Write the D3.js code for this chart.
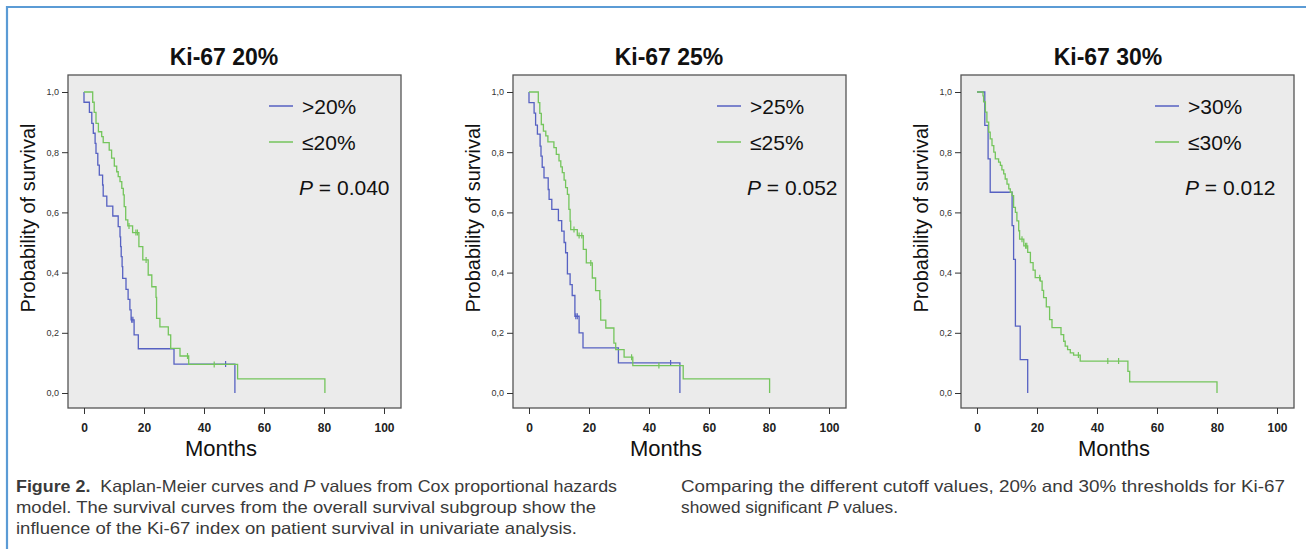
<!DOCTYPE html>
<html>
<head>
<meta charset="utf-8">
<script src="https://cdn.jsdelivr.net/npm/d3@7"></script>
<style>
  body { margin: 0; background: #fff; }
  svg { display: block; font-family: "Liberation Sans", Arial, sans-serif; }
</style>
</head>
<body>
<svg id="chart" width="1306" height="549"></svg>
<script>
// ---- data ----
const xTicks = [0, 20, 40, 60, 80, 100];
const yTicks = [0, 0.2, 0.4, 0.6, 0.8, 1.0];

// Ki-67 20%
const hi20Time = [0, 1.8, 2.6, 3.1, 3.7, 4.0, 4.6, 5.1, 6.2, 6.4, 7.6, 9.6, 11.4, 12.0, 12.2, 12.4, 12.7, 12.9, 14.0, 14.7, 15.3, 15.7, 16.7, 18.1, 30.0, 50.3];
const hi20Surv = [0.966, 0.932, 0.896, 0.863, 0.829, 0.796, 0.757, 0.724, 0.691, 0.654, 0.621, 0.588, 0.553, 0.519, 0.486, 0.453, 0.42, 0.381, 0.344, 0.311, 0.276, 0.243, 0.193, 0.147, 0.096, 0];
const hi20Cens = [15.9, 16.3, 47.2];
const lo20Time = [2.9, 3.4, 4.0, 4.8, 5.9, 6.4, 8.4, 9.2, 10.1, 10.9, 11.4, 12.0, 12.6, 13.1, 13.4, 13.9, 14.6, 16.2, 18.3, 19.6, 21.4, 22.6, 24.0, 24.2, 25.3, 28.1, 28.9, 32.0, 34.9, 51.2, 80.3];
const lo20Surv = [0.966, 0.932, 0.896, 0.868, 0.852, 0.832, 0.807, 0.78, 0.754, 0.735, 0.719, 0.702, 0.68, 0.658, 0.619, 0.575, 0.555, 0.533, 0.486, 0.442, 0.392, 0.353, 0.318, 0.248, 0.22, 0.193, 0.148, 0.123, 0.095, 0.047, 0];
const lo20Cens = [15.0, 17.3, 17.8, 20.7, 34.5, 43.4];

// Ki-67 25%
const hi25Time = [0, 1.7, 2.2, 2.8, 3.7, 4.0, 4.4, 5.0, 6.4, 6.7, 7.6, 9.8, 10.9, 11.7, 12.2, 12.8, 13.7, 14.4, 15.3, 16.7, 18.0, 29.8, 50.3];
const hi25Surv = [0.965, 0.93, 0.89, 0.86, 0.82, 0.787, 0.75, 0.715, 0.676, 0.643, 0.61, 0.573, 0.538, 0.5, 0.466, 0.396, 0.36, 0.324, 0.255, 0.2, 0.15, 0.1, 0];
const hi25Cens = [15.6, 16.1, 47.2];
const lo25Time = [3.1, 3.6, 4.1, 4.8, 5.6, 6.3, 8.3, 9.1, 10.0, 10.6, 11.1, 11.7, 12.2, 12.8, 13.3, 13.7, 13.9, 16.1, 18.1, 19.1, 21.1, 22.2, 23.6, 23.9, 25.6, 28.3, 28.9, 31.7, 34.6, 51.4, 80.2];
const lo25Surv = [0.965, 0.929, 0.892, 0.87, 0.854, 0.834, 0.815, 0.793, 0.771, 0.751, 0.732, 0.707, 0.682, 0.66, 0.61, 0.571, 0.543, 0.523, 0.477, 0.432, 0.382, 0.34, 0.31, 0.242, 0.216, 0.166, 0.144, 0.119, 0.091, 0.047, 0];
const lo25Cens = [15.0, 16.7, 17.6, 20.6, 34.2, 43.3];

// Ki-67 30%
const hi30Time = [2.6, 3.7, 4.4, 11.7, 12.2, 12.8, 14.4, 16.9];
const hi30Surv = [0.889, 0.778, 0.667, 0.556, 0.444, 0.222, 0.111, 0];
const hi30Cens = [];
const lo30Time = [2.0, 2.2, 2.8, 3.3, 3.9, 4.4, 5.0, 5.6, 6.1, 7.2, 7.8, 8.3, 8.9, 9.4, 10.0, 10.6, 11.1, 11.7, 12.2, 12.8, 13.3, 13.9, 14.2, 15.6, 16.9, 17.8, 18.7, 19.4, 21.1, 21.7, 22.2, 23.1, 24.2, 25.0, 28.0, 28.9, 29.4, 30.2, 31.1, 32.2, 34.4, 50.3, 50.9, 80.0];
const lo30Surv = [0.987, 0.967, 0.933, 0.9, 0.867, 0.844, 0.822, 0.8, 0.778, 0.767, 0.756, 0.741, 0.728, 0.711, 0.694, 0.678, 0.667, 0.656, 0.617, 0.6, 0.572, 0.539, 0.511, 0.489, 0.467, 0.433, 0.408, 0.383, 0.372, 0.341, 0.317, 0.286, 0.244, 0.217, 0.194, 0.172, 0.156, 0.144, 0.133, 0.126, 0.106, 0.072, 0.037, 0];
const lo30Cens = [15.0, 16.2, 16.6, 20.9, 33.8, 43.6, 47.2];

const titles = ["Ki-67 20%", "Ki-67 25%", "Ki-67 30%"];
const hiLabels = [">20%", ">25%", ">30%"];
const loLabels = ["≤20%", "≤25%", "≤30%"];
const pValues = [" = 0.040", " = 0.052", " = 0.012"];

// ---- layout ----
const panelLeft = [68, 513, 961];
const titleX = [156, 156, 147];
const legendX = [201, 204, 194];
const boxTop = 75, boxSize = 333;
const blue = "#5661c2", green = "#74c55c";

const svg = d3.select("#chart");

// blue frame round the figure
svg.append("path")
    .attr("d", "M7,549V7H1306")
    .attr("fill", "none")
    .attr("stroke", "#5b9bd5")
    .attr("stroke-width", 2.2);

const series = [
    [hi20Time, hi20Surv, hi20Cens, lo20Time, lo20Surv, lo20Cens],
    [hi25Time, hi25Surv, hi25Cens, lo25Time, lo25Surv, lo25Cens],
    [hi30Time, hi30Surv, hi30Cens, lo30Time, lo30Surv, lo30Cens]
];

series.forEach((s, i) => {
    const left = panelLeft[i];
    const g = svg.append("g");

    const x = d3.scaleLinear().domain([0, 100]).range([left + 16, left + 316]);
    const y = d3.scaleLinear().domain([0, 1]).range([393, 92]);

    // plot box
    g.append("rect")
        .attr("x", left).attr("y", boxTop)
        .attr("width", boxSize).attr("height", boxSize)
        .attr("fill", "#ebebeb")
        .attr("stroke", "#555").attr("stroke-width", 1.3);

    // title
    g.append("text")
        .attr("x", left + titleX[i]).attr("y", 65)
        .attr("text-anchor", "middle")
        .attr("font-size", 23).attr("font-weight", "bold")
        .attr("fill", "#111")
        .text(titles[i]);

    // y axis
    const ya = g.append("g")
        .attr("transform", `translate(${left},0)`)
        .call(d3.axisLeft(y).tickValues(yTicks).tickSize(6).tickPadding(3)
            .tickFormat(d => d3.format(".1f")(d).replace(".", ",")));
    ya.select(".domain").remove();
    ya.selectAll("line").attr("stroke", "#333");
    ya.selectAll("text").attr("font-size", 9).attr("fill", "#333")
        .attr("font-family", "Liberation Sans, Arial, sans-serif");

    // x axis
    const xa = g.append("g")
        .attr("transform", `translate(0,${boxTop + boxSize})`)
        .call(d3.axisBottom(x).tickValues(xTicks).tickSize(6).tickPadding(9));
    xa.select(".domain").remove();
    xa.selectAll("line").attr("stroke", "#333");
    xa.selectAll("text").attr("font-size", 12).attr("font-weight", "bold")
        .attr("fill", "#222")
        .attr("font-family", "Liberation Sans, Arial, sans-serif");

    // axis titles
    g.append("text")
        .attr("transform", `translate(${left - 33},218) rotate(-90)`)
        .attr("text-anchor", "middle")
        .attr("font-size", 20).attr("fill", "#111")
        .text("Probability of survival");
    g.append("text")
        .attr("x", left + 153).attr("y", 456)
        .attr("text-anchor", "middle")
        .attr("font-size", 22).attr("fill", "#111")
        .text("Months");

    // survival curves
    const line = d3.line()
        .x(d => x(d[0]))
        .y(d => y(d[1]))
        .curve(d3.curveStepAfter);

    const drawCurve = (times, surv, cens, color) => {
        const pts = [[0, 1]].concat(times.map((t, k) => [t, surv[k]]));
        g.append("path")
            .attr("d", line(pts))
            .attr("fill", "none")
            .attr("stroke", color)
            .attr("stroke-width", 1.3);
        // censor ticks
        cens.forEach(c => {
            const idx = d3.bisectRight(times, c) - 1;
            const v = idx >= 0 ? surv[idx] : 1;
            g.append("line")
                .attr("x1", x(c)).attr("x2", x(c))
                .attr("y1", y(v) - 3).attr("y2", y(v) + 3)
                .attr("stroke", color).attr("stroke-width", 1.2);
        });
    };
    drawCurve(s[0], s[1], s[2], blue);
    drawCurve(s[3], s[4], s[5], green);

    // legend
    const lx = left + legendX[i];
    [[hiLabels[i], blue, 106], [loLabels[i], green, 142]].forEach(([lab, col, ly]) => {
        g.append("line")
            .attr("x1", lx).attr("x2", lx + 24)
            .attr("y1", ly).attr("y2", ly)
            .attr("stroke", col).attr("stroke-width", 1.5);
        g.append("text")
            .attr("x", lx + 33).attr("y", ly + 7.5)
            .attr("font-size", 21).attr("fill", "#111")
            .text(lab);
    });
    const pt = g.append("text")
        .attr("x", lx + 30).attr("y", 194.5)
        .attr("font-size", 21).attr("fill", "#111");
    pt.append("tspan").attr("font-style", "italic").text("P");
    pt.append("tspan").text(pValues[i]);
});

// caption
const capLeft = [
    "model. The survival curves from the overall survival subgroup show the",
    "influence of the Ki-67 index on patient survival in univariate analysis."
];
const capLeftWidth = [580, 561];
const cap = svg.append("g")
    .attr("font-size", 16.5).attr("fill", "#3a3a3a");

const c1 = cap.append("text").attr("x", 16).attr("y", 492)
    .attr("textLength", 601).attr("lengthAdjust", "spacingAndGlyphs");
c1.append("tspan").attr("font-weight", "bold").text("Figure 2.");
c1.append("tspan").text("\u00a0 Kaplan-Meier curves and ");
c1.append("tspan").attr("font-style", "italic").text("P");
c1.append("tspan").text(" values from Cox proportional hazards");
capLeft.forEach((t, k) => {
    cap.append("text").attr("x", 16).attr("y", 513 + k * 21)
        .attr("textLength", capLeftWidth[k]).attr("lengthAdjust", "spacingAndGlyphs")
        .text(t);
});

cap.append("text").attr("x", 681).attr("y", 492)
    .attr("textLength", 604).attr("lengthAdjust", "spacingAndGlyphs")
    .text("Comparing the different cutoff values, 20% and 30% thresholds for Ki-67");
const c5 = cap.append("text").attr("x", 681).attr("y", 513)
    .attr("textLength", 217).attr("lengthAdjust", "spacingAndGlyphs");
c5.append("tspan").text("showed significant ");
c5.append("tspan").attr("font-style", "italic").text("P");
c5.append("tspan").text(" values.");
</script>
</body>
</html>
